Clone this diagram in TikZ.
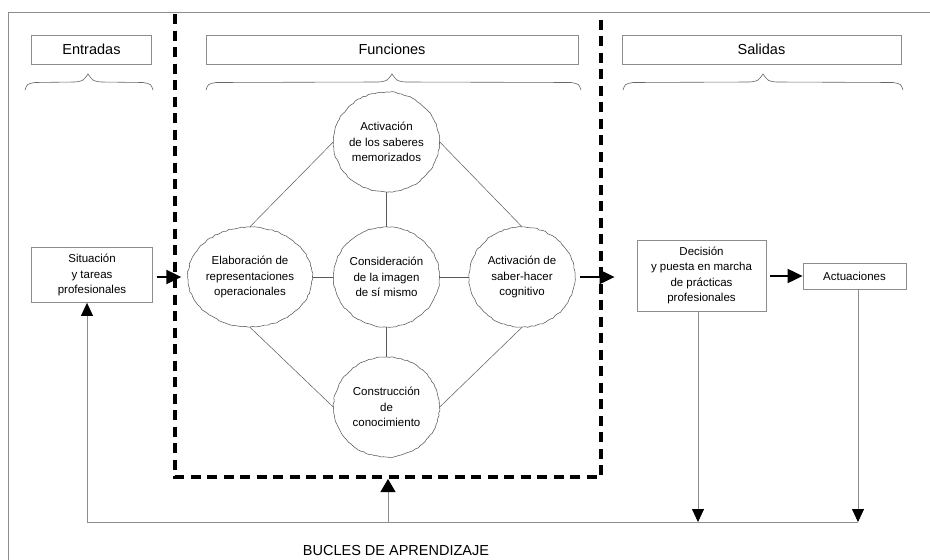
\documentclass[tikz,border=0pt]{standalone}
\usepackage{fontspec}
\setmainfont{Liberation Sans}
\usetikzlibrary{arrows.meta,decorations.pathmorphing,shapes.geometric}
\begin{document}
\pgfmathsetseed{7}
\begin{tikzpicture}[x=1pt,y=-1pt,
  frameline/.style={draw=black!45, line width=0.8pt},
  titlebox/.style={draw=black!45, line width=0.8pt, minimum height=29pt, inner sep=0pt,
    font=\fontsize{14.5}{17}\selectfont, text=black},
  bracestyle/.style={draw=black!60, line width=0.6pt},
  dashbox/.style={draw=black, line width=3.2pt, dash pattern=on 10pt off 6.5pt},
  bubble/.style={ellipse, draw=black!65, line width=0.55pt, minimum width=106pt, minimum height=100pt,
    inner sep=0pt, align=center, font=\fontsize{11.5}{15.3}\selectfont, text=black,
    decorate, decoration={random steps, segment length=3pt, amplitude=0.6pt}},
  link/.style={draw=black!65, line width=0.5pt},
  box/.style={rectangle, draw=black!45, line width=0.8pt, inner sep=0pt, align=center,
    font=\fontsize{11.5}{15.3}\selectfont, text=black},
  bigarrow/.style={draw=black, line width=2pt, -{Triangle[length=15pt,width=14pt]}},
  thinarrow/.style={draw=black!45, line width=0.8pt, -{Triangle[length=13pt,width=12pt,color=black]}},
  loopline/.style={draw=black!45, line width=0.8pt}
]
\fill[white] (0,0) rectangle (930,560);
\useasboundingbox (0,0) rectangle (930,560);

% outer frame
\draw[frameline] (8,560) -- (8,12) -- (930,12);

% titles
\node[titlebox, minimum width=120pt] (entr) at (91.5,49.5) {Entradas};
\node[titlebox, minimum width=372pt] (func) at (392,49.5) {Funciones};
\node[titlebox, minimum width=279pt] (sal) at (761.5,49.5) {Salidas};

% braces
\foreach \a/\c/\b in {25/88/153, 206/392/581, 623/763/903}{
  \draw[bracestyle] (\a,90) .. controls (\a+2,84) .. (\a+10,82.5) -- (\c-13,82)
     .. controls (\c-5,81) .. (\c,74) .. controls (\c+5,81) .. (\c+13,82)
     -- (\b-10,82.5) .. controls (\b-2,84) .. (\b,90);
}

% dashed frame
\draw[dashbox] (175,14) -- (175,477) -- (601,477) -- (601,14);

% bubbles
\node[bubble] (top) at (386.5,142) {Activación\\de los saberes\\memorizados};
\node[bubble] (elab) at (250,277) {Elaboración de\\representaciones\\operacionales};
\node[bubble] (cons) at (386.5,277) {Consideración\\de la imagen\\de sí mismo};
\node[bubble] (actv) at (522,277) {Activación de\\saber-hacer\\cognitivo};
\node[bubble] (constr) at (386.5,407) {Construcción\\de\\conocimiento};

\draw[link] (top.west) -- (elab.north);
\draw[link] (top.east) -- (actv.north);
\draw[link] (constr.west) -- (elab.south);
\draw[link] (constr.east) -- (actv.south);
\draw[link] (top.south) -- (cons.north);
\draw[link] (cons.south) -- (constr.north);
\draw[link] (elab.east) -- (cons.west);
\draw[link] (cons.east) -- (actv.west);

% boxes
\node[box, minimum width=121pt, minimum height=55pt] (situ) at (92,275) {Situación\\y tareas\\profesionales};
\node[box, minimum width=129pt, minimum height=71pt] (dec) at (701.5,275.5) {Decisión\\y puesta en marcha\\de prácticas\\profesionales};
\node[box, minimum width=103pt, minimum height=26pt] (actu) at (854.5,276) {Actuaciones};

% big arrows
\draw[bigarrow, shorten <=4pt, shorten >=6pt] (situ.east |- elab.west) -- (elab.west);
\draw[bigarrow, shorten <=5pt, shorten >=22pt] (actv.east) -- (actv.east -| dec.west);
\draw[bigarrow, shorten <=4pt] (dec.east |- actu.west) -- (actu.west);

% learning loops
\coordinate (bl) at (87,522);
\coordinate (bm) at (388,522);
\coordinate (b1) at (698,522);
\coordinate (b2) at (858,522);
\coordinate (dbot) at (388,479);
\draw[loopline] (bl) -- (b2);
\draw[thinarrow] (bl) -- (bl |- situ.south);
\draw[thinarrow, -{Triangle[length=13pt,width=15pt,color=black]}] (bm) -- (dbot);
\draw[thinarrow] (b1 |- dec.south) -- (b1);
\draw[thinarrow] (b2 |- actu.south) -- (b2);

\node[font=\fontsize{14.5}{17}\selectfont, text=black] (bucles) at (396,551) {BUCLES DE APRENDIZAJE};
\end{tikzpicture}
\end{document}
